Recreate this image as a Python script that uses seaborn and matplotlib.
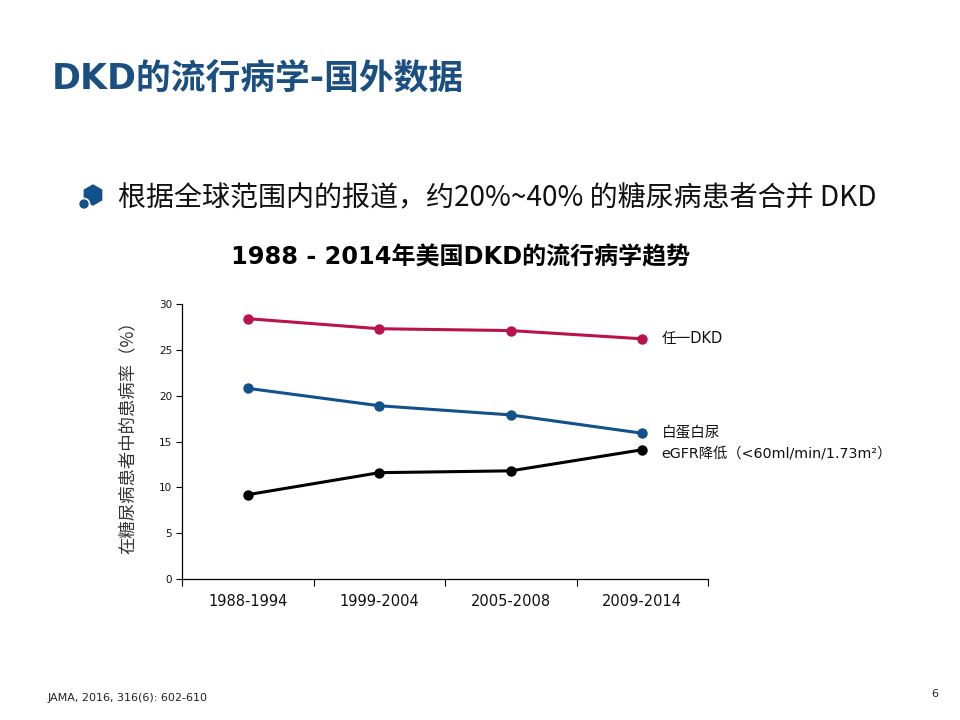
import pandas as pd
import matplotlib.pyplot as plt
import seaborn as sns
from matplotlib.patches import RegularPolygon, Circle
from matplotlib.transforms import IdentityTransform

periods = ['1988-1994', '1999-2004', '2005-2008', '2009-2014']
any_dkd = [28.4, 27.3, 27.1, 26.2]
albuminuria = [20.8, 18.9, 17.9, 15.9]
low_egfr = [9.2, 11.6, 11.8, 14.1]

series_names = ['任一DKD', '白蛋白尿', 'eGFR降低']
series_values = [any_dkd, albuminuria, low_egfr]
series_colors = ['#B8134A', '#12518B', '#000000']
yticks = [0, 5, 10, 15, 20, 25, 30]

sns.set_style('white')
plt.rcParams['font.family'] = ['DejaVu Sans', 'Noto Sans CJK SC']
plt.rcParams['text.color'] = '#111111'
plt.rcParams['xtick.color'] = '#111111'
plt.rcParams['ytick.color'] = '#111111'
cjk = ['Noto Sans CJK SC', 'DejaVu Sans']

rows = []
for name, vals in zip(series_names, series_values):
    for i, v in enumerate(vals):
        rows.append({'pos': i, 'period': periods[i], 'series': name, 'value': v})
df = pd.DataFrame(rows)

fig = plt.figure(figsize=(9.6, 7.2), dpi=100)
ax = fig.add_axes([0.1896, 0.1958, 0.5479, 0.382])

sns.lineplot(data=df, x='pos', y='value', hue='series', palette=series_colors,
             hue_order=series_names, marker='o', markersize=7.5, linewidth=2.2,
             markeredgewidth=0, legend=False, ax=ax)

ax.set_xlim(-0.5, len(periods) - 0.5)
ax.set_ylim(0, 30)
ax.set_yticks(yticks)
ax.set_yticklabels([str(t) for t in yticks], fontsize=7.5)
ax.set_xticks([i - 0.5 for i in range(len(periods) + 1)])
ax.set_xticklabels([])
ax.set_xticks(range(len(periods)), minor=True)
ax.set_xticklabels(periods, minor=True, fontsize=10.5)
ax.tick_params(axis='x', which='minor', bottom=True, length=0, pad=11)
ax.tick_params(axis='x', which='major', bottom=True, length=5, width=0.8,
               direction='out', color='black')
ax.tick_params(axis='y', left=True, length=4, width=0.8, direction='out',
               color='black', pad=3)
ax.spines['top'].set_visible(False)
ax.spines['right'].set_visible(False)
for s in ['left', 'bottom']:
    ax.spines[s].set_color('black')
    ax.spines[s].set_linewidth(0.9)
ax.set_xlabel('')
ax.set_ylabel('在糖尿病患者中的患病率（%）', fontsize=12.5, color='#333333', family=cjk)
ax.yaxis.set_label_coords(-0.086, 0.53)

# line-end labels
last = len(periods) - 1
ax.annotate('任一DKD', xy=(last, any_dkd[-1]), xytext=(14, 0), textcoords='offset points',
            fontsize=10.5, va='center', annotation_clip=False)
ax.annotate('白蛋白尿', xy=(last, albuminuria[-1]), xytext=(14, 0), textcoords='offset points',
            fontsize=10.5, va='center', annotation_clip=False, family=cjk)
ax.annotate('eGFR降低（<60ml/min/1.73m²）', xy=(last, low_egfr[-1]), xytext=(14, -3),
            textcoords='offset points', fontsize=10.3, va='center', annotation_clip=False)

# slide texts
fig.text(0.054, 0.889, 'DKD的流行病学-国外数据', fontsize=25, fontweight='bold',
         color='#1B4F82', va='center')
fig.text(0.123, 0.725, '根据全球范围内的报道，约20%~40% 的糖尿病患者合并 DKD',
         fontsize=20.2, color='#111111', va='center', family=cjk)
fig.add_artist(RegularPolygon((93, 525), 6, radius=10, color='#12518B',
                              transform=IdentityTransform()))
fig.add_artist(Circle((84, 516), 5.5, facecolor='#12518B', edgecolor='white', lw=1.2,
                      transform=IdentityTransform()))
fig.text(0.480, 0.642, '1988 - 2014年美国DKD的流行病学趋势', fontsize=17.3,
         fontweight='bold', color='black', ha='center', va='center')
fig.text(0.050, 0.031, 'JAMA, 2016, 316(6): 602-610', fontsize=8, color='#222222', va='center')
fig.text(0.970, 0.036, '6', fontsize=8, color='#222222', va='center')

fig.savefig('out.png', dpi=100)
